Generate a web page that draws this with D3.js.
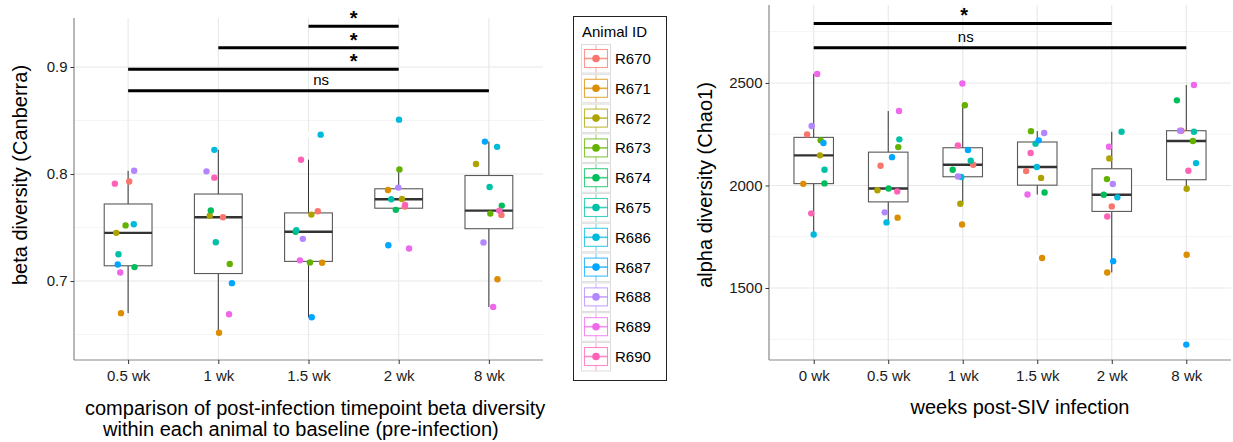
<!DOCTYPE html>
<html>
<head>
<meta charset="utf-8">
<script src="https://cdn.jsdelivr.net/npm/d3@7"></script>
<style>
  html, body { margin: 0; padding: 0; background: #fff; }
  svg { display: block; font-family: "Liberation Sans", Arial, Helvetica, sans-serif; }
</style>
</head>
<body>
<svg id="chart" width="1233" height="442"></svg>
<script>
// ---- data -------------------------------------------------------------
const animals = ["R670","R671","R672","R673","R674","R675","R686","R687","R688","R689","R690"];
const animalColors = ["#F8766D","#DB8E00","#AEA200","#64B200","#00BD5C","#00C1A7","#00BADE","#00A6FF","#B385FF","#EF67EB","#FF63B6"];

// Beta diversity (Canberra) vs. baseline, one value per animal (order = animals)
const betaTimepoints = ["0.5 wk","1 wk","1.5 wk","2 wk","8 wk"];
const beta05 = [0.793,0.670,0.745,0.752,0.713,0.725,0.753,0.7155,0.803,0.708,0.791];
const beta1  = [0.7596,0.6516,0.761,0.716,0.766,0.7363,0.8226,0.698,0.8025,0.669,0.7966];
const beta15 = [0.7652,0.7171,0.7621,0.7174,0.746,0.7475,0.8368,0.6661,0.7394,0.7193,0.8134];
const beta2  = [0.7696,0.7851,0.7767,0.8043,0.7665,0.7764,0.8508,0.7335,0.7873,0.7304,0.771];
const beta8  = [0.7618,0.7016,0.8093,0.763,0.7705,0.7879,0.8254,0.8303,0.736,0.6758,0.7658];
// horizontal jitter of each point, in category steps
const betaJit05 = [0.012,-0.079,-0.131,-0.028,0.071,-0.107,0.063,-0.115,0.067,-0.087,-0.147];
const betaJit1  = [0.052,0.008,-0.095,0.127,-0.083,-0.028,-0.044,0.151,-0.131,0.119,-0.044];
const betaJit15 = [0.103,0.151,0.032,0.016,-0.143,-0.135,0.135,0.036,-0.063,-0.095,-0.083];
const betaJit2  = [0.067,-0.119,0.036,0.008,-0.032,-0.083,0.004,-0.115,-0.004,0.115,0.071];
const betaJit8  = [0.139,0.095,-0.143,0.016,0.143,0.008,0.091,-0.044,-0.06,0.048,0.115];
const betaTicks = [0.7,0.8,0.9];
const betaMinor = [0.65,0.75,0.85];
// significance brackets: start / end category index, height, label, label position
const betaSigFrom  = [2,1,0,0];
const betaSigTo    = [3,3,3,4];
const betaSigY     = [0.938,0.918,0.8978,0.8777];
const betaSigText  = ["*","*","*","ns"];
const betaSigLabelAt = [2.5,2.5,2.5,2.14];

// Alpha diversity (Chao1)
const alphaTimepoints = ["0 wk","0.5 wk","1 wk","1.5 wk","2 wk","8 wk"];
const alpha0  = [2249,2008,2147,2220,2010,2077,1761,2207,2290,2544,1864];
const alpha05 = [2096,1843,1977,2187,1985,2225,1820,2138,1869,2363,1971];
const alpha1  = [2101,1810,1911,2391,2077,2121,2041,2173,2044,2497,2195];
const alpha15 = [2070,1646,2037,2265,1966,2204,2090,2220,2256,1956,2158];
const alpha2  = [1898,1576,2132,2031,1955,2262,1942,1631,2007,2189,1849];
const alpha8  = [2267,1662,1984,2217,2415,2262,2109,1224,2267,2490,2072];
const alphaJit0  = [-0.089,-0.14,0.084,0.093,0.145,0.145,0,0.131,-0.028,0.047,-0.033];
const alphaJit05 = [-0.103,0.126,-0.145,0.135,0.005,0.149,-0.023,0.051,-0.047,0.145,0.121];
const alphaJit1  = [0.14,-0.009,-0.033,0.028,-0.135,0.107,-0.019,0.07,-0.065,-0.005,-0.065];
const alphaJit15 = [-0.149,0.065,0.051,-0.084,0.098,-0.023,-0.005,0.019,0.093,-0.131,-0.089];
const alphaJit2  = [0,-0.061,-0.033,-0.065,-0.107,0.131,0.075,0.019,0.014,-0.037,-0.061];
const alphaJit8  = [-0.065,0.005,0.005,0.089,-0.126,0.103,0.131,0,-0.084,0.103,0.028];
const alphaTicks = [1500,2000,2500];
const alphaMinor = [1250,1750,2250,2750];
const alphaSigFrom  = [0,0];
const alphaSigTo    = [4,5];
const alphaSigY     = [2790,2671];
const alphaSigText  = ["*","ns"];
const alphaSigLabelAt = [2.02,2.04];

// ---- drawing ----------------------------------------------------------
const svg = d3.select("#chart");

function boxStats(values) {
  const s = values.slice().sort(d3.ascending);
  const q1 = d3.quantile(s, 0.25), med = d3.quantile(s, 0.5), q3 = d3.quantile(s, 0.75);
  const iqr = q3 - q1, lo = q1 - 1.5 * iqr, hi = q3 + 1.5 * iqr;
  const inside = s.filter(v => v >= lo && v <= hi);
  return { q1, med, q3, wlo: d3.min(inside), whi: d3.max(inside), out: s.filter(v => v < lo || v > hi) };
}

function drawPanel(p) {
  const g = svg.append("g");
  const x = d3.scalePoint().domain(p.cats).range([p.x0, p.x1]).padding(0.6);
  const step = x.step();
  const xAt = i => x(p.cats[0]) + i * step;
  const y = d3.scaleLinear().domain(p.yDomain).range([p.y1, p.y0]);

  // grid
  const grid = g.append("g");
  grid.selectAll(".minor").data(p.minor).join("line")
    .attr("x1", p.x0).attr("x2", p.x1).attr("y1", d => y(d)).attr("y2", d => y(d))
    .attr("stroke", "#f4f4f4").attr("stroke-width", 1);
  grid.selectAll(".major").data(p.ticks).join("line")
    .attr("x1", p.x0).attr("x2", p.x1).attr("y1", d => y(d)).attr("y2", d => y(d))
    .attr("stroke", "#e8e8e8").attr("stroke-width", 1.1);
  grid.selectAll(".vert").data(p.cats).join("line")
    .attr("x1", d => x(d)).attr("x2", d => x(d)).attr("y1", p.y0).attr("y2", p.y1)
    .attr("stroke", "#e8e8e8").attr("stroke-width", 1.1);

  // boxplots
  const bw = 0.53 * step;
  p.cats.forEach((c, ci) => {
    const st = boxStats(p.values[ci]);
    const cx = x(c);
    g.append("line").attr("x1", cx).attr("x2", cx).attr("y1", y(st.wlo)).attr("y2", y(st.whi))
      .attr("stroke", "#333").attr("stroke-width", 1);
    g.append("rect").attr("x", cx - bw / 2).attr("width", bw)
      .attr("y", y(st.q3)).attr("height", y(st.q1) - y(st.q3))
      .attr("fill", "#fff").attr("stroke", "#595959").attr("stroke-width", 1.1);
    g.append("line").attr("x1", cx - bw / 2).attr("x2", cx + bw / 2)
      .attr("y1", y(st.med)).attr("y2", y(st.med))
      .attr("stroke", "#333").attr("stroke-width", 2.4);
    g.selectAll(null).data(st.out).join("circle")
      .attr("cx", cx).attr("cy", d => y(d)).attr("r", 3).attr("fill", "#fff");
  });

  // jittered points, one per animal
  p.cats.forEach((c, ci) => {
    g.selectAll(null).data(p.values[ci].map((v, ai) => ({ v, ai, j: p.jitter[ci][ai] })))
      .join("circle")
      .attr("cx", d => x(c) + d.j * step)
      .attr("cy", d => y(d.v))
      .attr("r", 3.2)
      .attr("fill", d => animalColors[d.ai]);
  });

  // significance brackets
  p.sigFrom.forEach((f, i) => {
    const yy = y(p.sigY[i]);
    g.append("line").attr("x1", xAt(f)).attr("x2", xAt(p.sigTo[i]))
      .attr("y1", yy).attr("y2", yy).attr("stroke", "#000").attr("stroke-width", 3);
    const star = p.sigText[i] === "*";
    g.append("text").attr("x", xAt(p.sigLabelAt[i])).attr("y", star ? yy - 1 : yy - 6)
      .attr("text-anchor", "middle").attr("font-size", star ? 20 : 15)
      .attr("font-weight", star ? "bold" : "normal").attr("fill", "#000")
      .text(p.sigText[i]);
  });

  // axes
  const ya = g.append("g").attr("transform", `translate(${p.x0},0)`)
    .call(d3.axisLeft(y).tickValues(p.ticks).tickSize(3.5).tickPadding(3).tickFormat(p.fmt));
  ya.select(".domain").attr("stroke", "#888").attr("stroke-width", 1.2).attr("d", `M0,${p.y0}V${p.y1}`);
  ya.selectAll(".tick line").attr("stroke", "#333");
  ya.selectAll(".tick text").attr("font-size", 15).attr("fill", "#1a1a1a")
    .attr("font-family", "Liberation Sans, Arial, sans-serif");

  const xa = g.append("g").attr("transform", `translate(0,${p.y1})`)
    .call(d3.axisBottom(x).tickSize(4).tickPadding(6));
  xa.select(".domain").attr("stroke", "#888").attr("stroke-width", 1.2).attr("d", `M${p.x0},0H${p.x1}`);
  xa.selectAll(".tick line").attr("stroke", "#333");
  xa.selectAll(".tick text").attr("font-size", 15).attr("fill", "#1a1a1a")
    .attr("font-family", "Liberation Sans, Arial, sans-serif");

  // axis titles
  g.append("text").attr("transform", `translate(${p.yTitleX},${p.yTitleY}) rotate(-90)`)
    .attr("text-anchor", "middle").attr("font-size", 20).attr("fill", "#000").text(p.yTitle);
  p.xTitle.forEach((t, i) => {
    g.append("text").attr("x", p.xTitleX[i]).attr("y", p.xTitleY[i])
      .attr("text-anchor", p.xTitleAnchor).attr("font-size", 20).attr("fill", "#000").text(t);
  });
}

drawPanel({
  cats: betaTimepoints,
  values: [beta05, beta1, beta15, beta2, beta8],
  jitter: [betaJit05, betaJit1, betaJit15, betaJit2, betaJit8],
  ticks: betaTicks, minor: betaMinor, fmt: d3.format(".1f"),
  yDomain: [0.6262, 0.9458],
  x0: 74, x1: 543, y0: 18, y1: 360,
  sigFrom: betaSigFrom, sigTo: betaSigTo, sigY: betaSigY, sigText: betaSigText, sigLabelAt: betaSigLabelAt,
  yTitle: "beta diversity (Canberra)", yTitleX: 27, yTitleY: 175,
  xTitle: ["comparison of post-infection timepoint beta diversity",
           "within each animal to baseline (pre-infection)"],
  xTitleX: [85, 103], xTitleY: [415, 436], xTitleAnchor: "start"
});

drawPanel({
  cats: alphaTimepoints,
  values: [alpha0, alpha05, alpha1, alpha15, alpha2, alpha8],
  jitter: [alphaJit0, alphaJit05, alphaJit1, alphaJit15, alphaJit2, alphaJit8],
  ticks: alphaTicks, minor: alphaMinor, fmt: d3.format("d"),
  yDomain: [1149, 2880],
  x0: 769, x1: 1231, y0: 5, y1: 360,
  sigFrom: alphaSigFrom, sigTo: alphaSigTo, sigY: alphaSigY, sigText: alphaSigText, sigLabelAt: alphaSigLabelAt,
  yTitle: "alpha diversity (Chao1)", yTitleX: 712, yTitleY: 185,
  xTitle: ["weeks post-SIV infection"],
  xTitleX: [1020], xTitleY: [414], xTitleAnchor: "middle"
});

// ---- legend -----------------------------------------------------------
const lg = svg.append("g");
lg.append("rect").attr("x", 573.5).attr("y", 16.5).attr("width", 93).attr("height", 364)
  .attr("fill", "#fff").attr("stroke", "#222").attr("stroke-width", 1);
lg.append("text").attr("x", 582).attr("y", 37).attr("font-size", 15).attr("fill", "#000").text("Animal ID");
const keyH = 29.8;
const keys = lg.selectAll(".key").data(animals).join("g")
  .attr("transform", (d, i) => `translate(581,${44 + i * keyH})`);
keys.append("rect").attr("x", 0.5).attr("y", 0.5).attr("width", 29).attr("height", 28.5)
  .attr("fill", "#fff").attr("stroke", "#dcdcdc").attr("stroke-width", 1);
keys.append("line").attr("x1", 15).attr("x2", 15).attr("y1", 1).attr("y2", 28.5)
  .attr("stroke", (d, i) => animalColors[i]).attr("stroke-opacity", 0.6).attr("stroke-width", 1);
keys.append("rect").attr("x", 3.5).attr("y", 5.5).attr("width", 23).attr("height", 18)
  .attr("fill", "#fff").attr("stroke", (d, i) => animalColors[i]).attr("stroke-opacity", 0.75).attr("stroke-width", 1.1);
keys.append("line").attr("x1", 3.5).attr("x2", 26.5).attr("y1", 14.5).attr("y2", 14.5)
  .attr("stroke", (d, i) => animalColors[i]).attr("stroke-opacity", 0.75).attr("stroke-width", 1.6);
keys.append("circle").attr("cx", 15).attr("cy", 14.5).attr("r", 3.8)
  .attr("fill", (d, i) => animalColors[i]);
keys.append("text").attr("x", 34).attr("y", 20).attr("font-size", 15).attr("fill", "#000").text(d => d);
</script>
</body>
</html>
